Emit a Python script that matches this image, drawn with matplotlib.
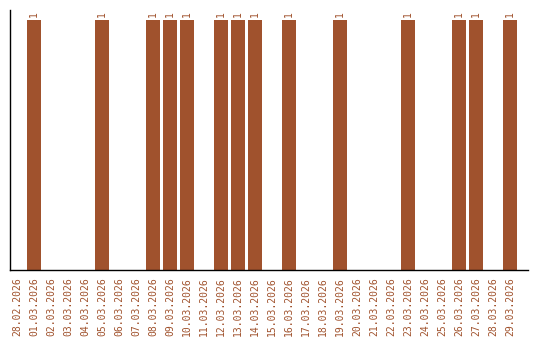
import matplotlib
matplotlib.use("Agg")
import matplotlib.pyplot as plt

dates = ["28.02.2026", "01.03.2026", "02.03.2026", "03.03.2026", "04.03.2026",
         "05.03.2026", "06.03.2026", "07.03.2026", "08.03.2026", "09.03.2026",
         "10.03.2026", "11.03.2026", "12.03.2026", "13.03.2026", "14.03.2026",
         "15.03.2026", "16.03.2026", "17.03.2026", "18.03.2026", "19.03.2026",
         "20.03.2026", "21.03.2026", "22.03.2026", "23.03.2026", "24.03.2026",
         "25.03.2026", "26.03.2026", "27.03.2026", "28.03.2026", "29.03.2026"]
counts = [0, 1, 0, 0, 0, 1, 0, 0, 1, 1,
          1, 0, 1, 1, 1, 0, 1, 0, 0, 1,
          0, 0, 0, 1, 0, 0, 1, 1, 0, 1]

color = "#A0522D"

fig = plt.figure(figsize=(5.4, 3.4), dpi=100)
ax = fig.add_axes([0.0185, 0.206, 0.959, 0.765])

x = list(range(len(dates)))
ax.bar(x, counts, width=0.82, color=color)

for xi, c in zip(x, counts):
    if c > 0:
        ax.text(xi, c + 0.012, str(c), rotation=90, ha="center", va="bottom",
                color=color, fontsize=7, family="DejaVu Sans Mono")

ax.set_xlim(-0.41, 30.06)
ax.set_ylim(0, 1.04)
ax.set_xticks(x)
ax.set_xticklabels(dates, rotation=90, color=color, fontsize=7,
                   family="DejaVu Sans Mono")
ax.tick_params(axis="x", length=0, pad=5)
ax.set_yticks([])
ax.spines["top"].set_visible(False)
ax.spines["right"].set_visible(False)
ax.spines["left"].set_linewidth(1)
ax.spines["bottom"].set_linewidth(1)

fig.savefig("out.png", dpi=100)
